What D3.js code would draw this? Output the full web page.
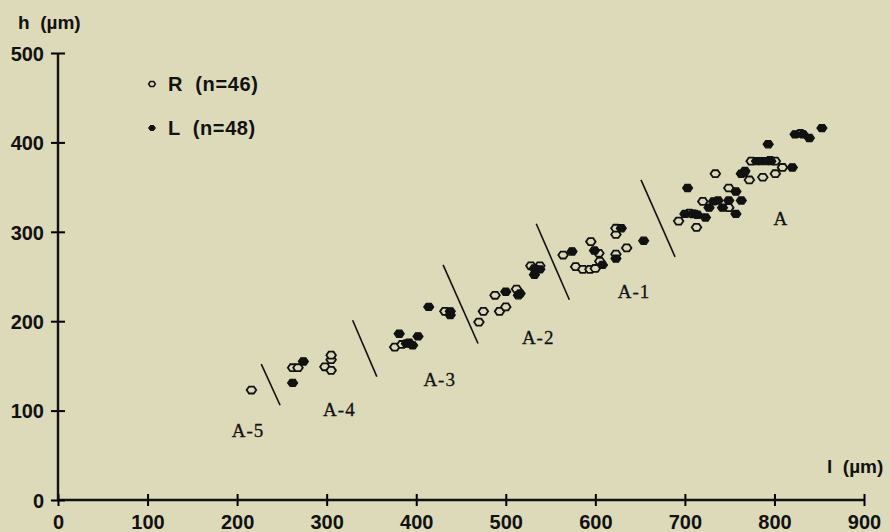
<!DOCTYPE html>
<html>
<head>
<meta charset="utf-8">
<script src="https://cdn.jsdelivr.net/npm/d3@7"></script>
<style>
  body { margin: 0; background: #dcdab9; }
  svg { display: block; }
  .tick-label, .axis-title, .legend-text {
    font-family: "Liberation Sans", Arial, sans-serif;
    font-weight: bold;
    fill: #111;
  }
  .zone-label {
    font-family: "Liberation Serif", "Times New Roman", serif;
    fill: #111;
    stroke: #111;
    stroke-width: 0.3;
    letter-spacing: 1px;
  }
</style>
</head>
<body>
<div id="scatter"></div>
<script>
// R side (open markers): [length l, height h] in µm
const rPoints = [
  [216, 123],
  [262, 148], [268, 148], [298, 149], [305, 145], [305, 157], [305, 162],
  [376, 171], [384, 174], [432, 211],
  [470, 199], [475, 211], [488, 229], [493, 211], [500, 216], [512, 236], [528, 262],
  [564, 274], [578, 261], [586, 258], [594, 258], [595, 289], [600, 259], [604, 276],
  [605, 267], [623, 275], [623, 297], [623, 304], [635, 282], [538, 262],
  [693, 312], [705, 321], [709, 320], [713, 305], [720, 334], [734, 365], [749, 327],
  [749, 349], [772, 358], [774, 379], [787, 361], [795, 380], [801, 365], [801, 379],
  [809, 372], [829, 410]
];

// L side (filled markers)
const lPoints = [
  [262, 131], [274, 155],
  [381, 186], [389, 175], [392, 176], [396, 173], [402, 183], [414, 216], [438, 211], [438, 207],
  [500, 233], [514, 229], [516, 231], [532, 259], [538, 258], [532, 252],
  [574, 278], [599, 279], [608, 263], [623, 270], [629, 304], [654, 290],
  [703, 349], [711, 320], [714, 319], [723, 316], [727, 327], [732, 334], [737, 335], [742, 327],
  [749, 335], [757, 320], [757, 345], [763, 335], [763, 365], [767, 368], [780, 379], [785, 379],
  [791, 379], [796, 379], [793, 398], [820, 372], [823, 409], [832, 409], [839, 405], [853, 416],
  [766, 366], [700, 320]
];

// dividing strokes between instar groups, [l1, h1, l2, h2]
const dividers = [
  [227, 152, 248, 106],
  [329, 201, 356, 138],
  [430, 263, 469, 175],
  [534, 309, 571, 224],
  [651, 358, 689, 272]
];

const zoneNames = ["A-5", "A-4", "A-3", "A-2", "A-1", "A"];
const zoneAnchors = [[194, 70], [296, 94], [408, 127], [518, 175], [625, 226], [799, 308]];

const xTicks = [0, 100, 200, 300, 400, 500, 600, 700, 800, 900];
const yTicks = [0, 100, 200, 300, 400, 500];

const legendItems = [
  { label: "R (n=46)", filled: false },
  { label: "L (n=48)", filled: true }
];

const svgWidth = 890;
const svgHeight = 532;
const bg = "#dcdab9";

const margin = { top: 53, right: 26, bottom: 32, left: 58 };
const width = svgWidth - margin.left - margin.right;
const height = svgHeight - margin.top - margin.bottom;

const svg = d3.select("#scatter")
  .append("svg")
  .attr("width", svgWidth)
  .attr("height", svgHeight);

svg.append("rect")
  .attr("width", svgWidth)
  .attr("height", svgHeight)
  .attr("fill", bg);

const chartGroup = svg.append("g")
  .attr("transform", `translate(${margin.left}, ${margin.top})`);

const x = d3.scaleLinear().domain([0, 900]).range([0, width]);
const y = d3.scaleLinear().domain([0, 500]).range([height, 0]);

// axes: ticks cross the axis line on both sides
const bottomAxis = d3.axisBottom(x).tickValues(xTicks).tickSize(6).tickFormat("");
const leftAxis = d3.axisLeft(y).tickValues(yTicks).tickSize(7).tickFormat("");

const xAxis = chartGroup.append("g")
  .attr("transform", `translate(0, ${height})`)
  .call(bottomAxis);
xAxis.select(".domain").remove();
xAxis.selectAll(".tick line").attr("y1", -6).attr("y2", 6).attr("stroke-width", 2);
xAxis.append("line")
  .attr("x1", 0).attr("x2", width)
  .attr("stroke", "#111").attr("stroke-width", 2.4);
xAxis.selectAll(".tick").append("text")
  .attr("class", "tick-label")
  .attr("y", 28.5)
  .attr("text-anchor", "middle")
  .attr("font-size", 20)
  .text(d => d);

const yAxis = chartGroup.append("g").call(leftAxis);
yAxis.select(".domain").remove();
yAxis.selectAll(".tick line").attr("x1", -7).attr("x2", 7).attr("stroke-width", 2);
yAxis.append("line")
  .attr("y1", 0).attr("y2", height)
  .attr("stroke", "#111").attr("stroke-width", 2.4);
yAxis.selectAll(".tick").append("text")
  .attr("class", "tick-label")
  .attr("x", -14)
  .attr("dy", "0.36em")
  .attr("text-anchor", "end")
  .attr("font-size", 20)
  .text(d => d);

// axis titles
svg.append("text")
  .attr("class", "axis-title")
  .attr("x", 18).attr("y", 29)
  .attr("font-size", 19)
  .attr("xml:space", "preserve")
  .text("h  (µm)");

svg.append("text")
  .attr("class", "axis-title")
  .attr("x", 827).attr("y", 473)
  .attr("font-size", 19)
  .attr("xml:space", "preserve")
  .text("l  (µm)");

// marker shape: small flattened hexagon
const marker = (r) => {
  const w = r, h = r * 0.72;
  return `M${-w},0L${-w / 2},${-h}L${w / 2},${-h}L${w},0L${w / 2},${h}L${-w / 2},${h}Z`;
};

// divider strokes
chartGroup.selectAll(".divider")
  .data(dividers)
  .enter()
  .append("line")
  .attr("class", "divider")
  .attr("x1", d => x(d[0])).attr("y1", d => y(d[1]))
  .attr("x2", d => x(d[2])).attr("y2", d => y(d[3]))
  .attr("stroke", "#111")
  .attr("stroke-width", 1.6);

// R points (open)
chartGroup.selectAll(".rpt")
  .data(rPoints)
  .enter()
  .append("path")
  .attr("class", "rpt")
  .attr("d", marker(4.8))
  .attr("transform", d => `translate(${x(d[0])}, ${y(d[1])})`)
  .attr("fill", bg)
  .attr("stroke", "#111")
  .attr("stroke-width", 1.8);

// L points (filled)
chartGroup.selectAll(".lpt")
  .data(lPoints)
  .enter()
  .append("path")
  .attr("class", "lpt")
  .attr("d", marker(5))
  .attr("transform", d => `translate(${x(d[0])}, ${y(d[1])})`)
  .attr("fill", "#111")
  .attr("stroke", "#111")
  .attr("stroke-width", 1.2);

// group labels
chartGroup.selectAll(".zone-label")
  .data(zoneNames)
  .enter()
  .append("text")
  .attr("class", "zone-label")
  .attr("x", (d, i) => x(zoneAnchors[i][0]))
  .attr("y", (d, i) => y(zoneAnchors[i][1]))
  .attr("font-size", 19)
  .text(d => d);

// legend
const legend = svg.append("g").attr("transform", "translate(152, 84)");
const legendRows = legend.selectAll("g")
  .data(legendItems)
  .enter()
  .append("g")
  .attr("transform", (d, i) => `translate(0, ${i * 44})`);

legendRows.append("path")
  .attr("d", marker(3.4))
  .attr("fill", d => d.filled ? "#111" : bg)
  .attr("stroke", "#111")
  .attr("stroke-width", d => d.filled ? 1 : 1.5);

legendRows.append("text")
  .attr("class", "legend-text")
  .attr("x", 16)
  .attr("dy", "0.36em")
  .attr("font-size", 20)
  .attr("letter-spacing", 0.6)
  .attr("xml:space", "preserve")
  .text(d => d.label.replace(" ", "  "));
</script>
</body>
</html>
